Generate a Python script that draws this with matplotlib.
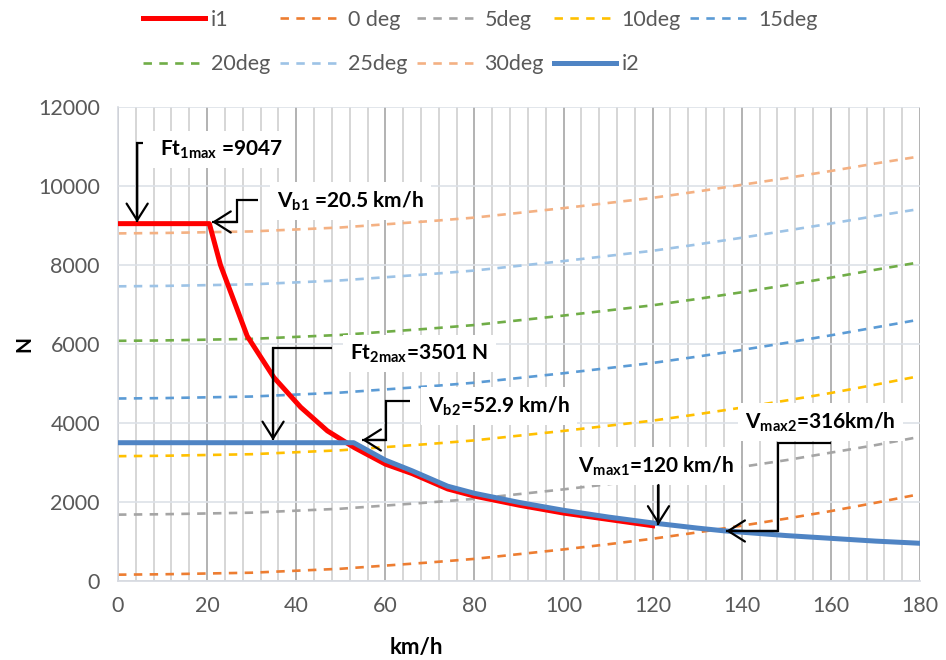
import matplotlib
matplotlib.use('Agg')
import matplotlib.pyplot as plt
from matplotlib.ticker import MultipleLocator

plt.rcParams['font.family'] = ['Lato', 'DejaVu Sans']

# speed grid for the resistance curves (km/h)
speed = [0, 10, 20, 30, 40, 50, 60, 70, 80, 90, 100, 110, 120, 130, 140, 150, 160, 170, 180]
deg0 = [160, 170, 190, 210, 260, 310, 390, 470, 560, 680, 800, 930, 1070, 1230, 1400, 1580, 1770, 1980, 2200]
deg5 = [1680, 1690, 1710, 1730, 1780, 1830, 1910, 1990, 2080, 2200, 2320, 2450, 2580, 2730, 2890, 3060, 3250, 3440, 3650]
deg10 = [3160, 3170, 3190, 3210, 3260, 3310, 3390, 3470, 3560, 3680, 3800, 3930, 4060, 4220, 4390, 4570, 4760, 4970, 5190]
deg15 = [4620, 4630, 4650, 4670, 4720, 4770, 4850, 4930, 5020, 5140, 5260, 5390, 5520, 5680, 5850, 6030, 6220, 6420, 6620]
deg20 = [6080, 6090, 6110, 6130, 6180, 6230, 6310, 6390, 6480, 6600, 6720, 6850, 6980, 7140, 7310, 7490, 7680, 7880, 8070]
deg25 = [7460, 7470, 7490, 7510, 7560, 7610, 7690, 7770, 7860, 7980, 8100, 8230, 8360, 8520, 8690, 8870, 9050, 9240, 9420]
deg30 = [8800, 8810, 8830, 8850, 8900, 8950, 9030, 9110, 9200, 9320, 9440, 9570, 9700, 9860, 10030, 10200, 10380, 10570, 10750]

# traction curves
i1_speed = [0, 20.5, 23, 25, 29, 35, 41, 47, 53, 60, 66, 74, 80, 90, 100, 110, 120]
i1_force = [9047, 9047, 8000, 7400, 6200, 5150, 4400, 3800, 3380, 2960, 2720, 2330, 2150, 1920, 1720, 1560, 1400]
i2_speed = [0, 52.9, 60, 66, 74, 80, 90, 100, 110, 120, 130, 136, 150, 160, 170, 180]
i2_force = [3501, 3501, 3060, 2790, 2400, 2220, 1990, 1790, 1620, 1470, 1340, 1270, 1150, 1080, 1010, 955]

dashed = [('0 deg', deg0, '#ED7D31'), ('5deg', deg5, '#A5A5A5'), ('10deg', deg10, '#FFC000'),
          ('15deg', deg15, '#5B9BD5'), ('20deg', deg20, '#70AD47'), ('25deg', deg25, '#9DC3E6'),
          ('30deg', deg30, '#F4B183')]

fig = plt.figure(figsize=(9.46, 6.6), dpi=100)
ax = fig.add_axes([118 / 946, 1 - 581 / 660, 802 / 946, 474 / 660])

ax.set_xlim(0, 180)
ax.set_ylim(0, 12000)
ax.xaxis.set_major_locator(MultipleLocator(20))
ax.xaxis.set_minor_locator(MultipleLocator(4))
ax.yaxis.set_major_locator(MultipleLocator(2000))
ax.grid(which='major', axis='x', color='#a6a6a6', lw=1.2)
ax.grid(which='minor', axis='x', color='#d0d0d0', lw=1.2)
ax.grid(which='major', axis='y', color='#dde1e8', lw=1.2)
ax.set_axisbelow(True)
for s in ['top', 'right']:
    ax.spines[s].set_visible(False)
for s in ['left', 'bottom']:
    ax.spines[s].set_color('#d6d9e0')
    ax.spines[s].set_linewidth(1.2)
ax.tick_params(axis='both', which='both', length=0, labelsize=15.5, labelcolor='#595959')
ax.tick_params(axis='x', pad=11)
ax.tick_params(axis='y', pad=13)

ax.set_xlabel('km/h', fontsize=16, fontweight='bold')
ax.xaxis.set_label_coords((416 - 118) / 802, -0.118)
ax.set_ylabel('N', fontsize=15, fontweight='bold')
ax.yaxis.set_label_coords(-0.104, 0.5)

handles = {}
handles['i1'], = ax.plot(i1_speed, i1_force, color='#FF0000', lw=3.6, zorder=3, label='i1')
for name, vals, col in dashed:
    handles[name], = ax.plot(speed, vals, color=col, lw=1.9, dashes=(3.2, 2.8), zorder=2, label=name)
handles['i2'], = ax.plot(i2_speed, i2_force, color='#4F84C4', lw=3.6, zorder=4, label='i2')

# legend: matplotlib fills columns first, so reorder for Excel-like rows
order = ['i1', '20deg', '0 deg', '25deg', '5deg', '30deg', '10deg', 'i2', '15deg']
fig.legend([handles[k] for k in order], order, ncol=5, loc='upper left',
           bbox_to_anchor=(143 / 946, 1 - 10 / 660), frameon=False, fontsize=15.5,
           handlelength=2.9, handletextpad=0.25, columnspacing=0.45, labelspacing=1.13,
           borderpad=0, borderaxespad=0, labelcolor='#595959')

box = dict(facecolor='white', edgecolor='none', boxstyle='square,pad=0.35')
afs = 15
ax.text(9.4, 10785, r'Ft$_{\mathregular{1max}}$ =9047', fontsize=afs, fontweight='bold', va='baseline', bbox=box, zorder=5)
ax.text(35.7, 9468, r'V$_{\mathregular{b1}}$ =20.5 km/h', fontsize=afs, fontweight='bold', va='baseline', bbox=box, zorder=5)
ax.text(52.1, 5620, r'Ft$_{\mathregular{2max}}$=3501 N', fontsize=afs, fontweight='bold', va='baseline', bbox=box, zorder=5)
ax.text(69.6, 4278, r'V$_{\mathregular{b2}}$=52.9 km/h', fontsize=afs, fontweight='bold', va='baseline', bbox=box, zorder=5)
ax.text(103.2, 2760, r'V$_{\mathregular{max1}}$=120 km/h', fontsize=afs, fontweight='bold', va='baseline', bbox=box, zorder=5)
ax.text(140.7, 3873, r'V$_{\mathregular{max2}}$=316km/h', fontsize=afs, fontweight='bold', va='baseline', bbox=box, zorder=5)

# elbow callout arrows
arrowprops = dict(arrowstyle='->,head_length=0.6,head_width=0.38', color='black', lw=1.6,
                  mutation_scale=20, shrinkA=0, shrinkB=0)


def callout(xs, ys):
    ax.plot(xs, ys, color='black', lw=1.6, zorder=6, solid_joinstyle='miter', solid_capstyle='butt')
    ax.annotate('', xy=(xs[-1], ys[-1]), xytext=(xs[-2], ys[-2]), arrowprops=arrowprops, zorder=6)


callout([5.6, 4.3, 4.3], [11089, 11089, 9080])
callout([31.4, 26.7, 26.7, 21.1], [9646, 9646, 9089, 9089])
callout([48.0, 34.8, 34.8], [5899, 5899, 3560])
callout([65.5, 60.1, 60.1, 54.8], [4557, 4557, 3570, 3570])
callout([121.3, 121.3], [2430, 1420])
callout([160.0, 148.1, 148.1, 136.5], [3494, 3494, 1266, 1266])

fig.savefig('out.png', dpi=100)
